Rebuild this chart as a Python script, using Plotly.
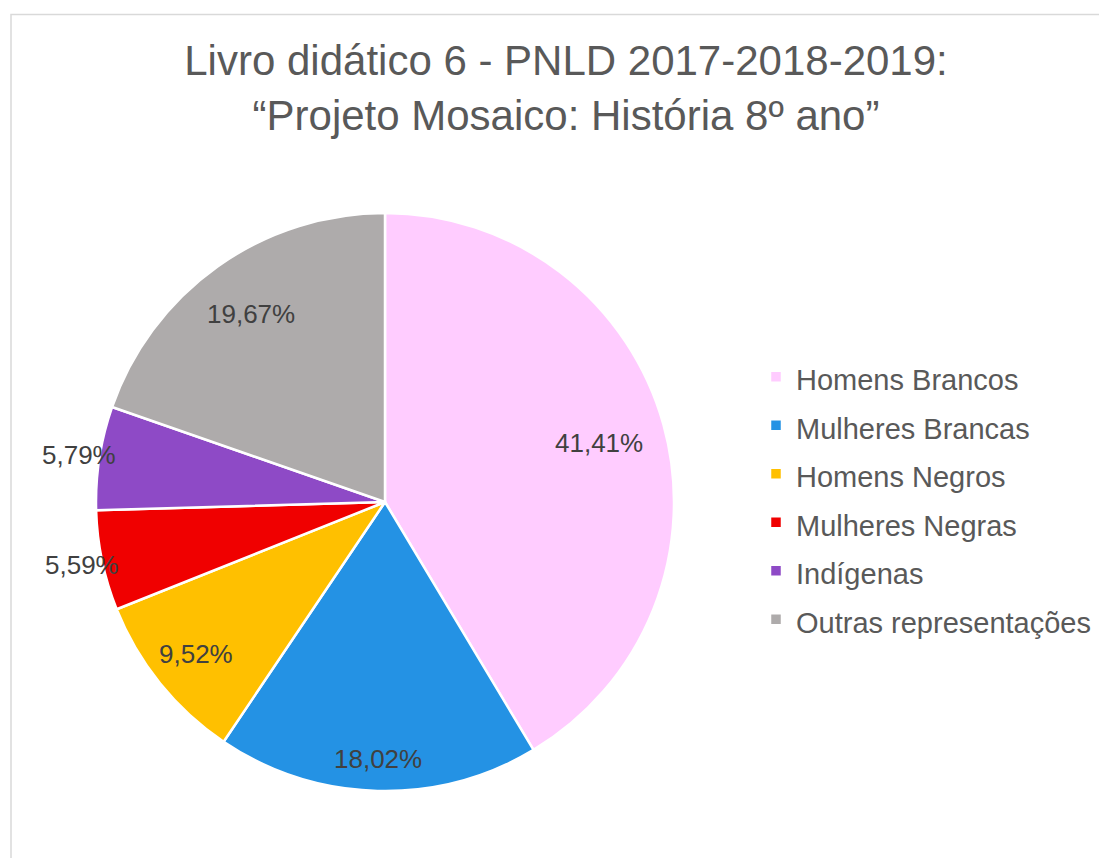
import math
import plotly.graph_objects as go

categories = ["Homens Brancos", "Mulheres Brancas", "Homens Negros",
              "Mulheres Negras", "Indígenas", "Outras representações"]
values = [41.41, 18.02, 9.52, 5.59, 5.79, 19.67]
value_labels = ["41,41%", "18,02%", "9,52%", "5,59%", "5,79%", "19,67%"]
colors = ["#FFCCFF", "#2492E4", "#FFC000", "#F00000", "#8E4AC6", "#AEABAB"]
# distance of each data label from the pie centre, as a fraction of the radius
label_r = [0.77, 0.89, 0.84, 1.07, 1.07, 0.80]

W, H = 1107, 858
OFF = 8  # page body margin offsets the figure by 8px
# pie centre and radius in page pixels
cx, cy, R = 385 - OFF, 502 - OFF, 289
dom_x = [(cx - R) / W, (cx + R) / W]
dom_y = [1 - (cy + R) / H, 1 - (cy - R) / H]

FONT = "Liberation Sans, Arial"

fig = go.Figure()
fig.add_trace(go.Pie(
    labels=[f'<span style="font-size:29px">{c}</span>' for c in categories],
    values=values,
    sort=False,
    direction="clockwise",
    rotation=0,
    marker=dict(colors=colors, line=dict(color="white", width=2.5)),
    textinfo="none",
    hovertemplate="%{label}: %{percent}<extra></extra>",
    domain=dict(x=dom_x, y=dom_y),
))

# data labels at the middle angle of each slice
total = sum(values)
cum = 0.0
for v, txt, f in zip(values, value_labels, label_r):
    mid = (cum + v / 2) / total * 2 * math.pi
    cum += v
    px = cx + f * R * math.sin(mid)
    py = cy - f * R * math.cos(mid)
    fig.add_annotation(x=px / W, y=1 - py / H, xref="paper", yref="paper",
                       text=txt, showarrow=False,
                       font=dict(family=FONT, size=26, color="#404040"),
                       xanchor="center", yanchor="middle")

# chart area border
fig.add_shape(type="rect", xref="paper", yref="paper",
              x0=(11 - OFF) / W, y0=-0.05, x1=1.05, y1=1 - (14.5 - OFF) / H,
              line=dict(color="#D9D9D9", width=1.5), fillcolor="rgba(0,0,0,0)")

fig.update_layout(
    width=W, height=H,
    margin=dict(l=0, r=0, t=0, b=0),
    paper_bgcolor="white",
    plot_bgcolor="white",
    title=dict(
        text="Livro didático 6 - PNLD 2017-2018-2019:<br>“Projeto Mosaico: História 8º ano”",
        x=(566 - OFF) / W, xanchor="center",
        y=1 - 67 / H, yanchor="top",
        font=dict(family=FONT, size=42, color="#595959"),
    ),
    legend=dict(
        x=(756 - OFF) / W, xanchor="left",
        y=1 - (498 - OFF) / H, yanchor="middle",
        font=dict(family=FONT, size=35, color="#595959"),
        bgcolor="rgba(0,0,0,0)",
    ),
    showlegend=True,
)

fig.write_html("out.html")
